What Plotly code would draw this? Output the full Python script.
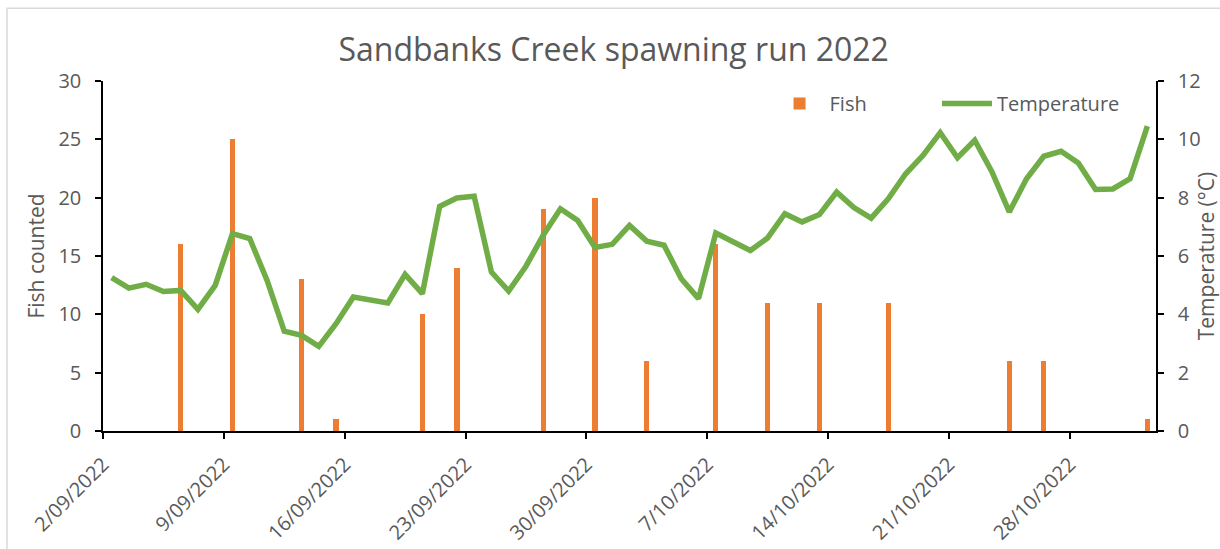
import pandas as pd
import plotly.graph_objects as go

# ---- data ----
fish_dates = ["2022-09-06", "2022-09-09", "2022-09-13", "2022-09-15", "2022-09-20",
              "2022-09-22", "2022-09-27", "2022-09-30", "2022-10-03", "2022-10-07",
              "2022-10-10", "2022-10-13", "2022-10-17", "2022-10-24", "2022-10-26",
              "2022-11-01"]
fish_counts = [16, 25, 13, 1, 10, 14, 19, 20, 6, 16, 11, 11, 11, 6, 6, 1]

temp_start = "2022-09-02"
temperature = [5.26, 4.90, 5.03, 4.78, 4.82, 4.17, 4.99, 6.77, 6.60, 5.17,
               3.42, 3.28, 2.90, 3.68, 4.59, 4.50, 4.39, 5.37, 4.71, 7.70,
               7.99, 8.05, 5.45, 4.80, 5.65, 6.71, 7.62, 7.22, 6.29, 6.40,
               7.05, 6.51, 6.37, 5.22, 4.54, 6.79, 6.50, 6.19, 6.62, 7.45,
               7.17, 7.42, 8.19, 7.66, 7.30, 7.97, 8.82, 9.45, 10.23, 9.37,
               9.97, 8.88, 7.51, 8.65, 9.42, 9.59, 9.19, 8.28, 8.30, 8.65,
               10.45]
temp_dates = pd.date_range(temp_start, periods=len(temperature), freq="D")

tick_dates = ["2022-09-02", "2022-09-09", "2022-09-16", "2022-09-23", "2022-09-30",
              "2022-10-07", "2022-10-14", "2022-10-21", "2022-10-28"]
tick_labels = ["2/09/2022", "9/09/2022", "16/09/2022", "23/09/2022", "30/09/2022",
               "7/10/2022", "14/10/2022", "21/10/2022", "28/10/2022"]

title_text = "Sandbanks Creek spawning run 2022"

# ---- styling ----
FONT = "Open Sans"
GREY = "#595959"
ORANGE = "#ED7D31"
GREEN = "#70AD47"
DAY_MS = 86400000
half_day = pd.Timedelta(hours=12)

# Excel-style date axis: each day is a slot, ticks on slot edges
tickvals = [pd.Timestamp(d) - half_day for d in tick_dates]
x_range = [temp_dates[0] - half_day, temp_dates[-1] + half_day]

fig = go.Figure()
fig.add_trace(go.Bar(
    x=pd.to_datetime(fish_dates), y=fish_counts, name="Fish",
    marker=dict(color=ORANGE, line=dict(width=0)),
    width=0.31 * DAY_MS, yaxis="y", legend="legend", showlegend=True,
))
fig.add_trace(go.Scatter(
    x=temp_dates, y=temperature, name="Temperature", mode="lines",
    line=dict(color=GREEN, width=5.5), yaxis="y2", legend="legend2", showlegend=True,
))

axis_common = dict(
    showline=True, linecolor="black", linewidth=1.5,
    ticks="outside", ticklen=6, tickwidth=1.5, tickcolor="black",
    showgrid=False, zeroline=False, automargin=False,
    tickfont=dict(family=FONT, size=20, color=GREY),
)

legend_common = dict(orientation="h", yanchor="middle", y=0.936, xanchor="left",
                     font=dict(family=FONT, size=20, color=GREY),
                     bgcolor="rgba(0,0,0,0)", itemwidth=50, visible=True)

fig.update_layout(
    width=1220, height=549,
    margin=dict(l=103, r=64, t=81, b=118),
    paper_bgcolor="white", plot_bgcolor="white",
    font=dict(family=FONT, color=GREY),
    showlegend=True,
    title=dict(text=title_text, x=0.503, xref="container", xanchor="center",
               y=1 - 50 / 549, yref="container", yanchor="middle",
               font=dict(family=FONT, size=32, color=GREY)),
    xaxis=dict(type="date", range=x_range, tickvals=tickvals, ticktext=tick_labels,
               tickangle=-45, ticklabelstandoff=6, **axis_common),
    yaxis=dict(range=[0, 30], dtick=5, ticklabelstandoff=10,
               title=dict(text="Fish counted", standoff=8,
                          font=dict(family=FONT, size=21, color=GREY)),
               **axis_common),
    yaxis2=dict(range=[0, 12], dtick=2, overlaying="y", side="right",
                ticklabelstandoff=10,
                title=dict(text="Temperature (°C)", standoff=0,
                           font=dict(family=FONT, size=21, color=GREY)),
                **axis_common),
    legend=dict(x=0.633, **legend_common),
    legend2=dict(x=0.792, **legend_common),
    bargap=0,
    shapes=[dict(type="rect", xref="paper", yref="paper",
                 x0=(7 - 103) / 1053, x1=1.2, y0=-0.6, y1=(430.7 - 8) / 350,
                 line=dict(color="#D9D9D9", width=1.5), layer="below")],
)

fig.write_html("out.html")
